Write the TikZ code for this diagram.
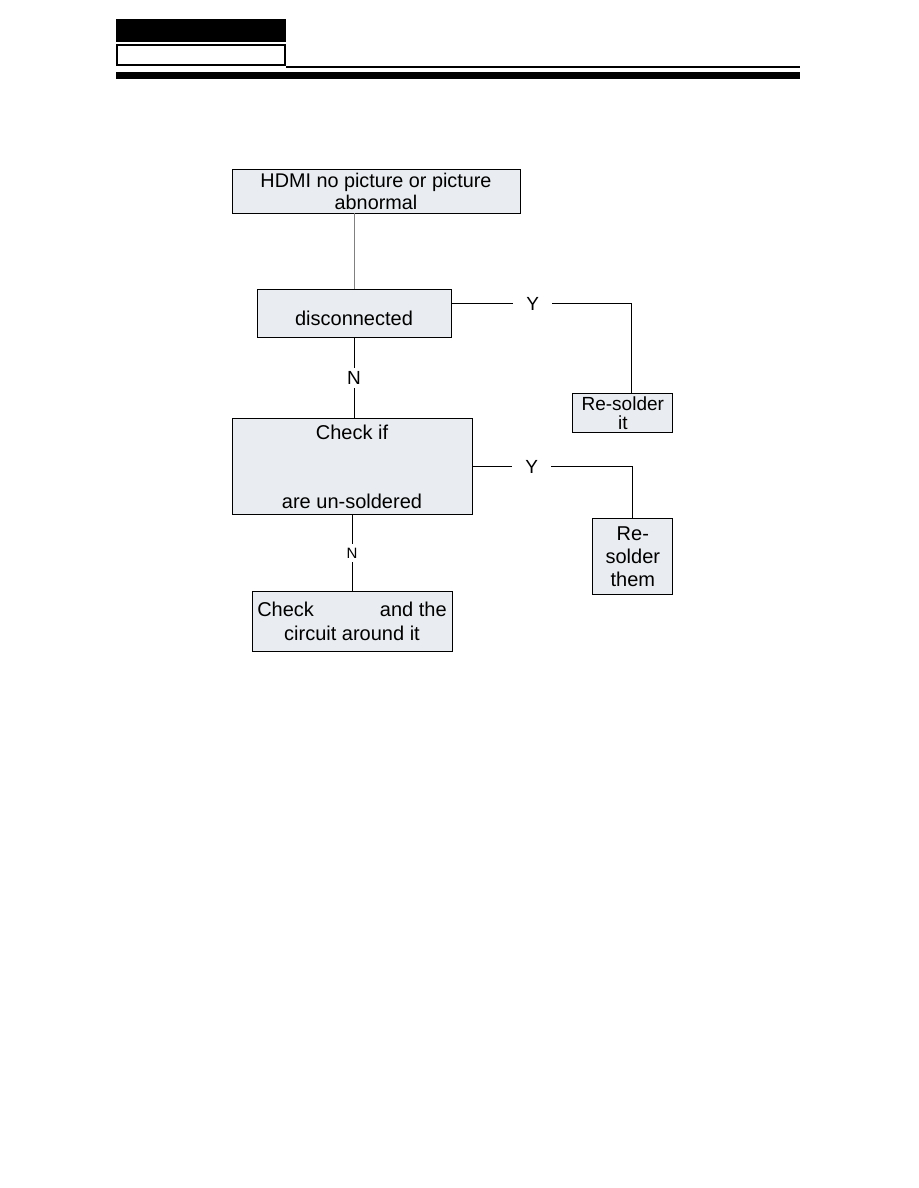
\documentclass[tikz,border=0pt]{standalone}
\usepackage{fontspec}
\setmainfont{Liberation Sans}
\usetikzlibrary{positioning}
\definecolor{boxfill}{RGB}{233,236,240}
\tikzset{
  box/.style  = {rectangle, draw, fill=boxfill, line width=0.8pt,
                 align=center, inner sep=0pt,
                 font=\fontsize{20}{24}\selectfont},
  link/.style = {line width=0.8pt},
  lab/.style  = {fill=white, inner xsep=13pt, inner ysep=3.5pt,
                 font=\fontsize{19}{22}\selectfont}
}
\begin{document}
\begin{tikzpicture}[x=1pt,y=-1pt]
  \useasboundingbox (0,0) rectangle (918,1188);
  % page header
  \fill (116,19) rectangle (286,42);
  \draw[line width=2pt] (117,45) rectangle (285,65);
  \draw[line width=2pt] (286,67.5) -- (800,67.5);
  \fill (116,72) rectangle (800,79);
  % flow
  \node[box,minimum width=288pt,minimum height=44pt,
        font=\fontsize{19.8}{22}\selectfont] (hdmi) at (376,191)
        {HDMI no picture or picture\\abnormal};
  \node[box,below=76pt of hdmi,xshift=-22pt,
        minimum width=194pt,minimum height=48pt] (disc)
        {\mbox{}\\disconnected};
  \node[box,right=121pt of disc,yshift=-99.5pt,
        minimum width=100pt,minimum height=39pt,
        font=\fontsize{19}{19}\selectfont] (solder1) {Re-solder\\it};
  \node[box,below=80pt of disc,xshift=-2pt,
        minimum width=240pt,minimum height=96pt,
        font=\fontsize{20}{23}\selectfont] (check)
        {Check if\\\mbox{}\\\mbox{}\\are un-soldered};
  \node[box,right=120pt of check,yshift=-90pt,
        minimum width=80pt,minimum height=76pt,
        font=\fontsize{20}{23}\selectfont] (solder2) {Re-\\solder\\them};
  \node[box,below=76pt of check,
        minimum width=200pt,minimum height=60pt] (circ)
        {Check\hspace{66pt}and the\\circuit around it};
  \coordinate (yes1) at ([yshift=10pt]disc.east);
  \coordinate (turn1) at ([xshift=9pt]solder1.north);
  \draw[link,gray] (hdmi.south -| disc.north) -- (disc.north);
  \draw[link] (yes1) -- node[lab,pos=0.45]{Y} (yes1 -| turn1) -- (turn1);
  \draw[link] (disc.south) -- node[lab]{N} (disc.south |- check.north);
  \draw[link] (check.east) -- node[lab,pos=0.37]{Y}
        (check.east -| solder2.north) -- (solder2.north);
  \draw[link] (check.south) -- node[lab,inner ysep=4pt,
        font=\fontsize{15}{16}\selectfont]{N} (circ.north);
\end{tikzpicture}
\end{document}
